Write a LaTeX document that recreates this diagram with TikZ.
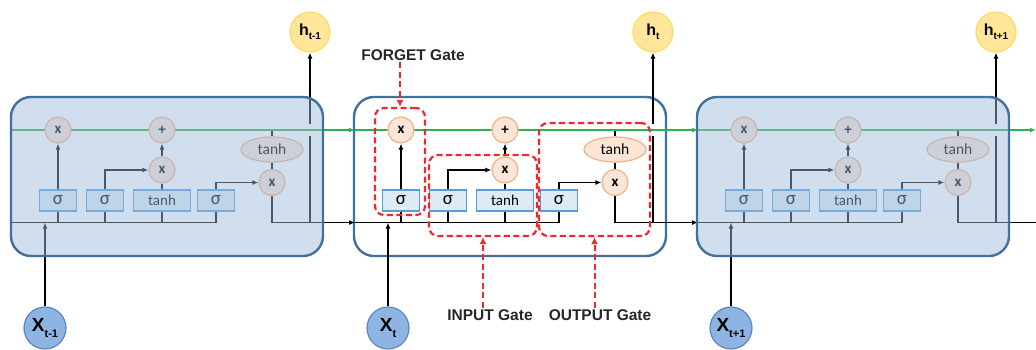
\documentclass[tikz,border=0pt]{standalone}
\usepackage{fontspec}
\setmainfont{Liberation Sans}
\newfontfamily\calfont{Carlito}
\usetikzlibrary{arrows.meta,shapes.geometric}
\definecolor{cellborder}{HTML}{41719C}
\definecolor{tintblue}{HTML}{9CBBDB}
\definecolor{opfill}{HTML}{FBE5D6}
\definecolor{opdraw}{HTML}{F4B183}
\definecolor{boxfill}{HTML}{DEEBF7}
\definecolor{boxdraw}{HTML}{5B9BD5}
\definecolor{cellgreen}{HTML}{2DB34A}
\definecolor{hfill}{HTML}{FFE699}
\definecolor{hdraw}{HTML}{FFD966}
\definecolor{xfill}{HTML}{8DB4E2}
\definecolor{xdraw}{HTML}{5A88BE}
\definecolor{gatered}{HTML}{F0282D}
\definecolor{labeltext}{HTML}{262626}
\pgfdeclarelayer{cells}
\pgfdeclarelayer{wires}
\pgfdeclarelayer{tint}
\pgfdeclarelayer{front}
\pgfsetlayers{cells,wires,main,tint,front}
\newcommand\hsub[1]{\raisebox{-0.45ex}{\fontsize{10}{10}\selectfont #1}}
\newcommand\xsub[1]{\raisebox{-0.55ex}{\fontsize{11}{11}\selectfont #1}}
\newcommand\sigm{{\fontsize{19}{19}\selectfont σ}}
\tikzset{
  cellshape/.style={rectangle, rounded corners=20pt, minimum width=312pt, minimum height=159pt, draw=cellborder, line width=2.4pt, inner sep=0pt},
  midcell/.style={fill=white},
  sidecell/.style={fill=tintblue, fill opacity=0.48},
  opc/.style={circle, draw=opdraw, fill=opfill, line width=1.2pt, minimum size=26pt, inner sep=0pt, font=\calfont\bfseries\fontsize{15}{15}\selectfont},
  tanhell/.style={ellipse, draw=opdraw, fill=opfill, line width=1.2pt, minimum width=62pt, minimum height=25pt, inner sep=0pt, font=\calfont\fontsize{15.5}{15.5}\selectfont},
  gatebox/.style={rectangle, draw=boxdraw, fill=boxfill, line width=1.2pt, minimum width=37pt, minimum height=21pt, inner sep=0pt, font=\calfont\fontsize{15}{15}\selectfont},
  hcirc/.style={circle, draw=hdraw, fill=hfill, line width=1.2pt, minimum size=40pt, inner sep=0pt, font=\bfseries\fontsize{16}{16}\selectfont},
  xcirc/.style={circle, draw=xdraw, fill=xfill, line width=1.2pt, minimum size=42pt, inner sep=0pt, font=\bfseries\fontsize{19}{19}\selectfont},
  wire/.style={draw=black, line width=1.5pt},
  cstate/.style={draw=cellgreen, line width=2.3pt},
  arr/.style={-{Latex[length=6pt,width=5pt]}},
  redbox/.style={rectangle, draw=gatered, dash pattern=on 6pt off 3.5pt, line width=2.2pt, rounded corners=9pt, inner sep=0pt},
  redarrow/.style={draw=gatered, dash pattern=on 6pt off 3.5pt, line width=2pt, -{Latex[length=7pt,width=7pt]}},
  gatelabel/.style={inner sep=1.5pt, text=labeltext, font=\bfseries\fontsize{15.5}{15.5}\selectfont}
}
\newcommand\lstmcell[6]{%
\begin{scope}[xshift=#2]
  \begin{pgfonlayer}{#3}
    \node[cellshape,#4] (#1cell) at (167,176.5) {};
  \end{pgfonlayer}
  \node[opc] (#1fx) at (58,130) {x};
  \node[opc] (#1add) at (162,130) {+};
  \node[opc] (#1ix) at (162,170) {x};
  \node[tanhell] (#1th) at (272,149.5) {tanh};
  \node[opc] (#1ox) at (272,182.5) {x};
  \node[gatebox] (#1s1) at (58,200.5) {\sigm};
  \node[gatebox] (#1s2) at (105,200.5) {\sigm};
  \node[gatebox, minimum width=57pt] (#1tb) at (162,200.5) {tanh};
  \node[gatebox] (#1s3) at (216,200.5) {\sigm};
  \node[hcirc] (#1h) at (310,32) {#5};
  \node[xcirc] (#1x) at (45,328) {#6};
  \coordinate (#1in) at (12,222.5);
  \coordinate (#1cl) at (12,130);
  \coordinate (#1hj) at (310,222.5);
  \coordinate (#1hga) at (310,136);
  \coordinate (#1hgb) at (310,124);
  \coordinate (#1xj) at (45,222.5);
  \begin{pgfonlayer}{wires}
    \draw[wire,arr] (#1s1) -- (#1fx);
    \draw[wire,arr] (#1s2.north) |- (#1ix.west);
    \draw[wire] (#1tb) -- (#1ix);
    \draw[wire,arr] (#1ix) -- (#1add);
    \draw[wire,arr] (#1s3.north) |- (#1ox.west);
    \draw[wire] (#1th.north) -- (#1th.north |- #1cl);
    \draw[wire] (#1th) -- (#1ox);
    \draw[wire] (#1in) -| (#1s3.south);
    \draw[wire] (#1s1.south) -- (#1s1.south |- #1in);
    \draw[wire] (#1s2.south) -- (#1s2.south |- #1in);
    \draw[wire] (#1tb.south) -- (#1tb.south |- #1in);
    \draw[wire] (#1ox.south) |- (#1hj);
    \draw[wire] (#1hj) -- (#1hga);
    \draw[wire,arr] (#1hgb) -- (#1h);
    \draw[wire,arr] (#1x) -- (#1xj);
  \end{pgfonlayer}
\end{scope}}
\begin{document}
\begin{tikzpicture}[x=1pt,y=-1pt]
\useasboundingbox (0,0) rectangle (1036,349);
\lstmcell{L}{0pt}{tint}{sidecell}{h\hsub{t-1}}{X\xsub{t-1}}
\lstmcell{M}{343pt}{cells}{midcell}{h\hsub{t}}{X\xsub{t}}
\lstmcell{R}{686pt}{tint}{sidecell}{h\hsub{t+1}}{X\xsub{t+1}}
\coordinate (outend) at (1036,222.5);
\coordinate (greenend) at (1036,130);
\begin{pgfonlayer}{wires}
  \draw[wire,arr] (Lhj) -- (Min);
  \draw[wire,arr] (Mhj) -- (Rin);
  \draw[wire] (Rhj) -- (outend);
  \draw[cstate,arr] (Lcl) -- (Mcl);
  \draw[cstate,arr] (Mcl) -- (Rcl);
  \draw[cstate,arr] (Rcl) -- (greenend);
\end{pgfonlayer}
\begin{pgfonlayer}{front}
  \node[redbox, minimum width=50pt, minimum height=107pt] (fgbox) at (400,161.5) {};
  \node[redbox, minimum width=108pt, minimum height=81pt] (igbox) at (483,195.5) {};
  \node[redbox, minimum width=111pt, minimum height=113pt] (ogbox) at (594.5,179.5) {};
  \node[gatelabel] (fgl) at (413,55) {FORGET Gate};
  \node[gatelabel] (igl) at (490,315) {INPUT Gate};
  \node[gatelabel] (ogl) at (600,315) {OUTPUT Gate};
  \draw[redarrow] (fgl.south -| fgbox.north) -- (fgbox.north);
  \draw[redarrow] (igl.north -| igbox.south) -- (igbox.south);
  \draw[redarrow] (ogl.north -| ogbox.south) -- (ogbox.south);
\end{pgfonlayer}
\end{tikzpicture}
\end{document}
